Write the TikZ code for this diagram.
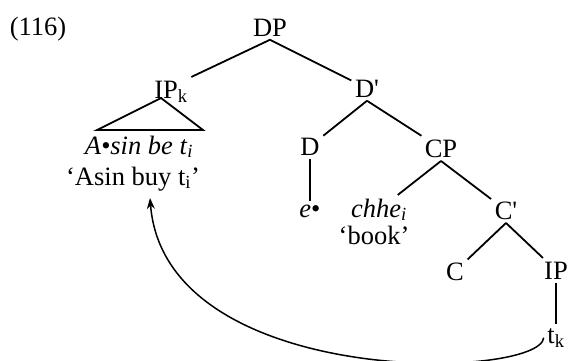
\documentclass[tikz,border=0pt]{standalone}
\usepackage{fontspec}
\setmainfont{Liberation Serif}
\usetikzlibrary{arrows.meta}

\begin{document}
\begin{tikzpicture}[>={Stealth[length=11pt,width=8pt]}, x=1pt, y=-1pt,
  lbl/.style={anchor=base, inner sep=3.5pt, font=\fontsize{26.5}{30}\selectfont},
  branch/.style={line width=1.8pt}]
\useasboundingbox (0,0) rectangle (570,360);
\node[lbl] (ex) at (38,35) {(116)};
% top of the tree
\node[lbl] (DP) at (270,36) {DP};
\node[lbl] (IPk) at (171,98) {IP\textsubscript{k}};
\node[lbl] (Dbar) at (367,97) {D\textquotesingle};
\draw[branch] (DP.south) -- (IPk.north east);
\draw[branch] (DP.south) -- (Dbar);
% fronted IP under a triangle
\draw[branch] (161,98) -- (97,130) -- (203,130) -- cycle;
\node[lbl] (asin) at (139,154) {\textit{A•sin be t}\textsubscript{\textit{i}}};
\node[lbl] (gloss) at (133,185) {`Asin buy t\textsubscript{i}'};
% D and its empty head
\node[lbl] (D) at (310,155) {D};
\node[lbl] (CP) at (441,157) {CP};
\draw[branch] (Dbar.south) -- (D);
\draw[branch] (Dbar.south) -- (CP);
\node[lbl] (ebul) at (310,217) {\textit{e}•};
\draw[branch] (D.south) -- (D.south |- ebul.north);
% relative clause
\node[lbl] (chhe) at (379,217) {\textit{chhe}\textsubscript{\textit{i}}};
\node[lbl] (book) at (374,244) {`book'};
\node[lbl] (Cbar) at (506,219) {C\textquotesingle};
\draw[branch] (CP.south) -- (chhe);
\draw[branch] (CP.south) -- (Cbar);
\node[lbl] (C) at (455,280) {C};
\node[lbl] (IP) at (556,279) {IP};
\draw[branch] (Cbar.south) -- (C);
\draw[branch] (Cbar.south) -- (IP);
\node[lbl] (tk) at (556,343) {t\textsubscript{k}};
\draw[branch] (IP.south) -- (IP.south |- tk.north);
% movement arrow
\coordinate (land) at (150,198);
\draw[->, line width=1.5pt] (tk.west) .. controls (540,380) and (165,390) .. (land);
\end{tikzpicture}
\end{document}
